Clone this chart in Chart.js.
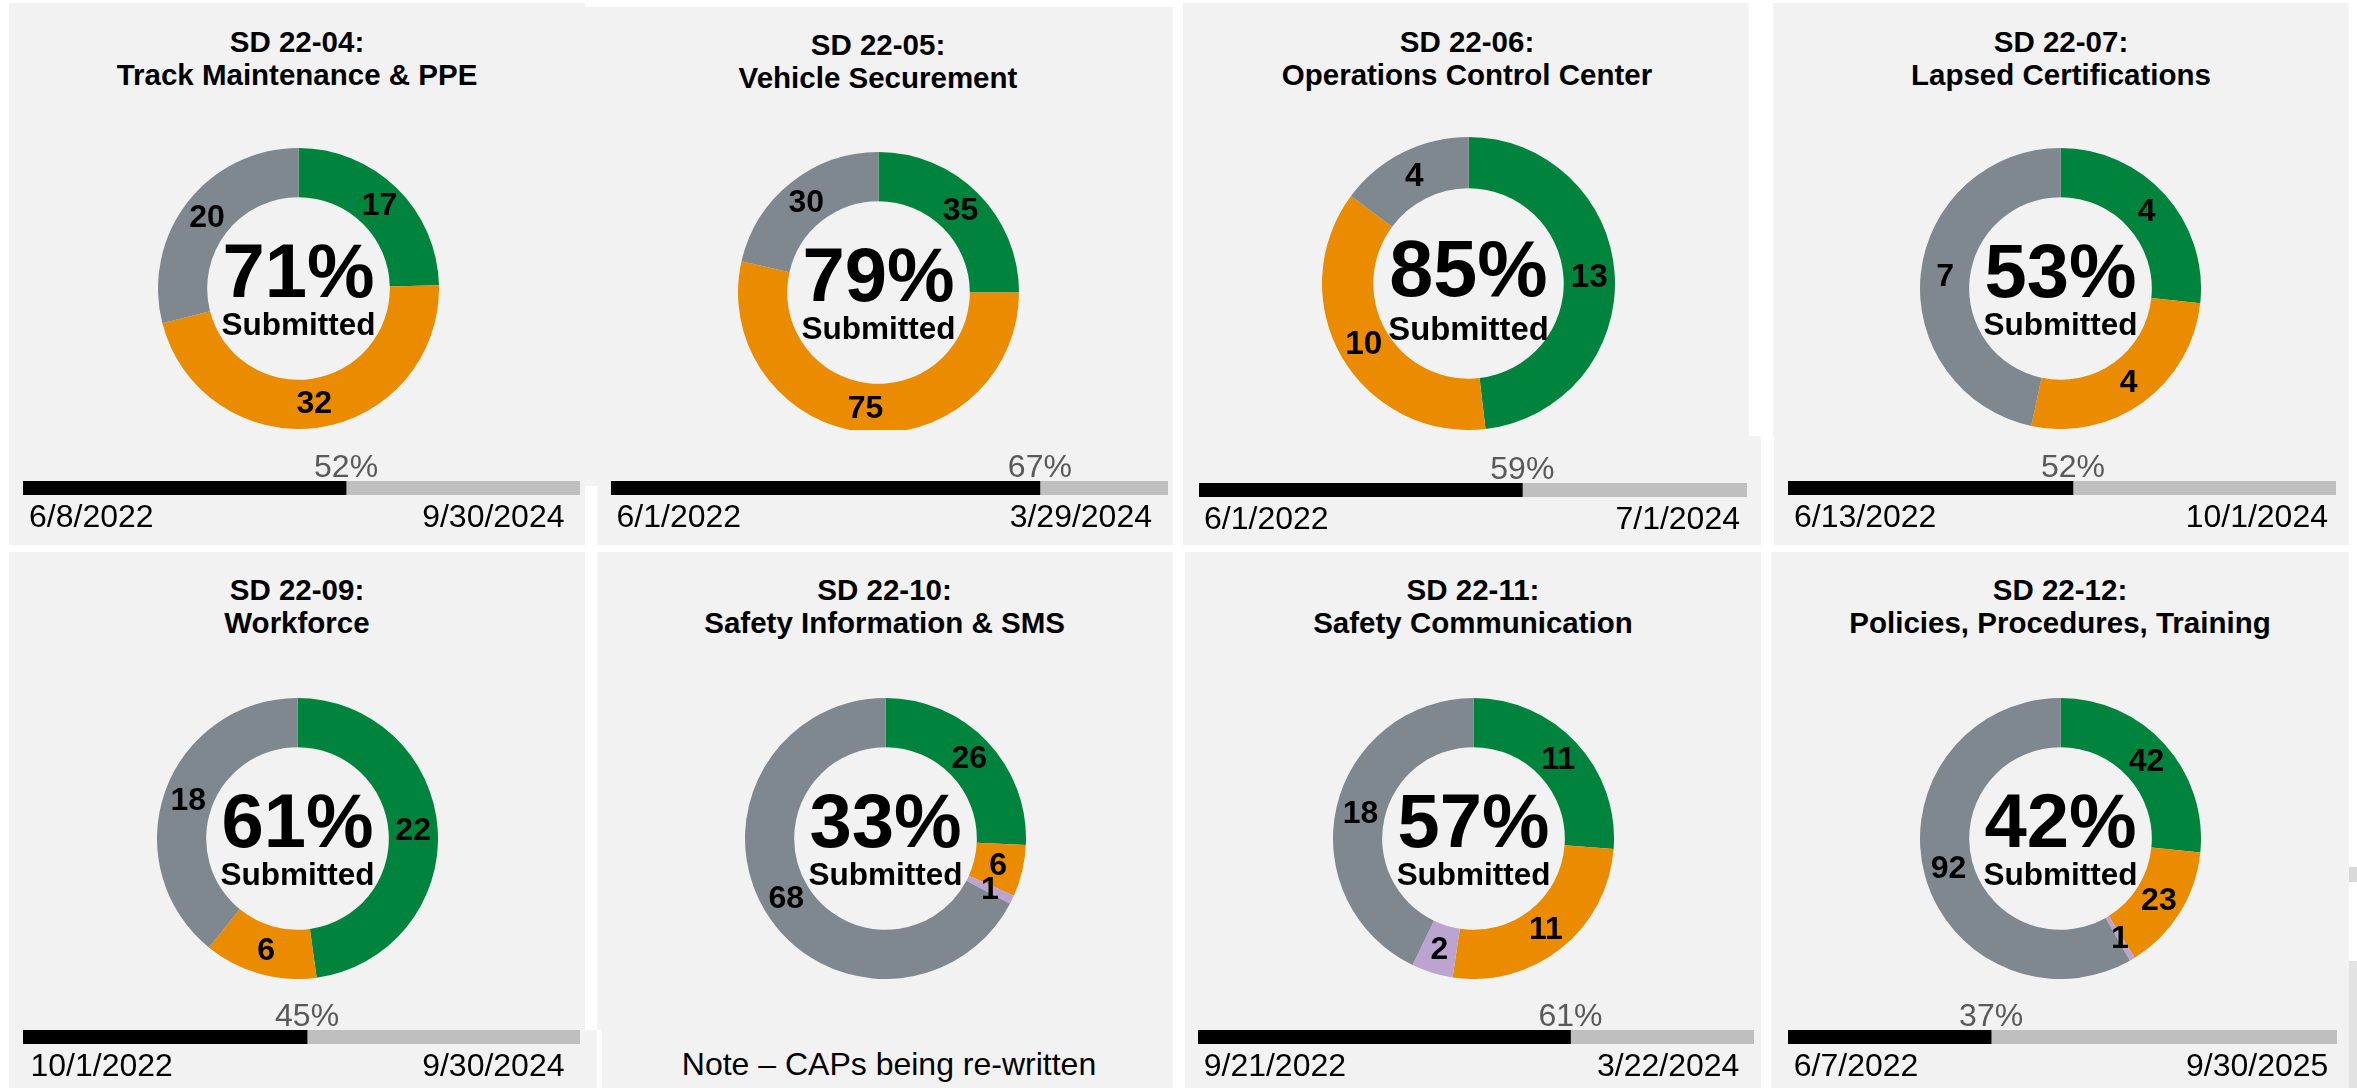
<!DOCTYPE html>
<html>
<head>
<meta charset="utf-8">
<script src="https://cdn.jsdelivr.net/npm/chart.js@4.4.1/dist/chart.umd.min.js"></script>
<style>
  html, body { margin:0; padding:0; }
  body { width:2357px; height:1088px; position:relative; overflow:hidden; background:#f2f2f2;
         font-family:"Liberation Sans", Arial, sans-serif; }
  .w { position:absolute; background:#ffffff; }
  .title { position:absolute; width:600px; text-align:center; font-weight:bold; font-size:29.5px;
           line-height:33px; color:#000; white-space:nowrap; }
  .note { position:absolute; width:600px; text-align:center; font-size:32px; line-height:32px; color:#000; white-space:nowrap; }
  canvas { position:absolute; }
  .clip { position:absolute; overflow:hidden; }
  .clip canvas { left:0; top:0; }
</style>
</head>
<body>
<script>
// ---------------- DATA ----------------
const directiveIds   = ['SD 22-04:', 'SD 22-05:', 'SD 22-06:', 'SD 22-07:', 'SD 22-09:', 'SD 22-10:', 'SD 22-11:', 'SD 22-12:'];
const directiveNames = ['Track Maintenance & PPE', 'Vehicle Securement', 'Operations Control Center', 'Lapsed Certifications',
                        'Workforce', 'Safety Information & SMS', 'Safety Communication', 'Policies, Procedures, Training'];
const greenCounts    = [17, 35, 13, 4, 22, 26, 11, 42];
const orangeCounts   = [32, 75, 10, 4, 6, 6, 11, 23];
const purpleCounts   = [0, 0, 0, 0, 0, 1, 2, 1];
const grayCounts     = [20, 30, 4, 7, 18, 68, 18, 92];
const submittedPct   = ['71%', '79%', '85%', '53%', '61%', '33%', '57%', '42%'];
const timeElapsed    = [0.58, 0.77, 0.59, 0.52, 0.51, null, 0.67, 0.37];
const timeLabels     = ['52%', '67%', '59%', '52%', '45%', null, '61%', '37%'];
const startDates     = ['6/8/2022', '6/1/2022', '6/1/2022', '6/13/2022', '10/1/2022', null, '9/21/2022', '6/7/2022'];
const endDates       = ['9/30/2024', '3/29/2024', '7/1/2024', '10/1/2024', '9/30/2024', null, '3/22/2024', '9/30/2025'];
const noteText       = 'Note \u2013 CAPs being re-written';

// ---------------- LAYOUT (positions only) ----------------
const donutLayout = [
  {cx:298,    cy:288,   R:140.5, tx:297,  ty:24.7, dy1:8.5,  dy2:46},
  {cx:878.5,  cy:292.5, R:140.5, tx:878,  ty:28.3, dy1:8.5,  dy2:46, clipBottom:430},
  {cx:1468.5, cy:283,   R:146.3, tx:1467, ty:24.7, dy1:12.4, dy2:56},
  {cx:2060.5, cy:288.7, R:140.4, tx:2061, ty:24.7, dy1:8.5,  dy2:46},
  {cx:297.7,  cy:838,   R:140.5, tx:297,  ty:573.3, dy1:8.5, dy2:46},
  {cx:885,    cy:838,   R:140.6, tx:884.6,ty:573.3, dy1:8,   dy2:46},
  {cx:1473,   cy:838,   R:140.3, tx:1473, ty:573.3, dy1:8.5, dy2:46},
  {cx:2060.5, cy:838,   R:140.6, tx:2060, ty:573.3, dy1:8.5, dy2:46}
];
const barLayout = [
  {l:23,     r:580,    t:481,   li:6,   ri:15.5},
  {l:610.6,  r:1168,   t:481,   li:5.5, ri:16},
  {l:1198.7, r:1747,   t:483,   li:5,   ri:7},
  {l:1787.6, r:2336,   t:481,   li:6,   ri:8},
  {l:23,     r:580,    t:1030,  li:7.5, ri:15.5},
  null,
  {l:1198,   r:1753.6, t:1030,  li:5.7, ri:14.6},
  {l:1787.6, r:2337,   t:1030,  li:5.8, ri:8.6}
];
const whiteRects = [
  [0,0,2357,3],[585,0,588,7],[0,0,9,1088],[2349,0,8,1088],[0,545,2357,7],
  [585,486,12,59],[585,552,12,478],[597,1030,5,58],
  [1173,0,10,545],[1173,552,12,536],
  [1749,0,24,436],[1761,436,13,109],[1761,552,10,536]
];

const COLORS = { green:'#00843d', orange:'#ea8b00', purple:'#bba5d0', gray:'#7f888e', bar:'#000000', barRest:'#bfbfbf' };
const FONT = '"Liberation Sans", Arial, sans-serif';

// ---------------- BACKGROUND ----------------
whiteRects.forEach(([x,y,w,h]) => {
  const d = document.createElement('div'); d.className = 'w';
  Object.assign(d.style, {left:x+'px', top:y+'px', width:w+'px', height:h+'px'});
  document.body.appendChild(d);
});
[[2349,867,8,15,'#d9d9d9'],[2349,961,8,127,'#e2e2e2']].forEach(([x,y,w,h,c]) => {
  const d = document.createElement('div'); d.className = 'w';
  Object.assign(d.style, {left:x+'px', top:y+'px', width:w+'px', height:h+'px', background:c});
  document.body.appendChild(d);
});

// ---------------- PLUGINS ----------------
const segmentLabels = {
  id:'segmentLabels',
  afterDatasetsDraw(chart) {
    const ctx = chart.ctx, k = chart.options.plugins.segmentLabels.k;
    const meta = chart.getDatasetMeta(0);
    const vals = chart.data.datasets[0].data;
    ctx.save();
    ctx.fillStyle = '#000';
    ctx.font = `bold ${32*k}px ${FONT}`;
    ctx.textAlign = 'center'; ctx.textBaseline = 'middle';
    meta.data.forEach((arc, i) => {
      if (!vals[i]) return;
      const p = arc.tooltipPosition();
      ctx.fillText(String(vals[i]), p.x, p.y + 1);
    });
    ctx.restore();
  }
};
const centerText = {
  id:'centerText',
  afterDraw(chart) {
    const o = chart.options.plugins.centerText;
    const arc = chart.getDatasetMeta(0).data[0];
    const ctx = chart.ctx;
    ctx.save();
    ctx.fillStyle = '#000'; ctx.textAlign = 'center'; ctx.textBaseline = 'alphabetic';
    ctx.font = `bold ${76*o.k}px ${FONT}`;
    ctx.fillText(o.pct, arc.x, arc.y + o.dy1);
    ctx.font = `bold ${31.5*o.k}px ${FONT}`;
    ctx.fillText('Submitted', arc.x, arc.y + o.dy2);
    ctx.restore();
  }
};
const barText = {
  id:'barText',
  afterDraw(chart) {
    const o = chart.options.plugins.barText;
    const ctx = chart.ctx, a = chart.chartArea;
    const xe = chart.scales.x.getPixelForValue(o.elapsed);
    ctx.save();
    ctx.textBaseline = 'alphabetic';
    ctx.font = `32px ${FONT}`;
    ctx.fillStyle = '#595959'; ctx.textAlign = 'center';
    ctx.fillText(o.label, xe, a.top - 4.5);
    ctx.fillStyle = '#000';
    ctx.textAlign = 'left';  ctx.fillText(o.start, a.left + o.li, a.bottom + 32);
    ctx.textAlign = 'right'; ctx.fillText(o.end, a.right - o.ri, a.bottom + 32);
    ctx.restore();
  }
};

// ---------------- BUILD PANELS ----------------
const PT = 45, PB = 45, BH = 14;
directiveIds.forEach((id, i) => {
  const L = donutLayout[i];
  // title
  const t = document.createElement('div'); t.className = 'title';
  t.style.left = (L.tx - 300) + 'px'; t.style.top = L.ty + 'px';
  t.textContent = id; t.appendChild(document.createElement('br'));
  t.appendChild(document.createTextNode(directiveNames[i]));
  document.body.appendChild(t);

  // donut
  const size = Math.round(2 * L.R);
  const cv = document.createElement('canvas');
  cv.width = size; cv.height = size;
  const left = L.cx - size/2, top = L.cy - size/2;
  if (L.clipBottom) {
    const wrap = document.createElement('div'); wrap.className = 'clip';
    Object.assign(wrap.style, {left:left+'px', top:top+'px', width:size+'px', height:(L.clipBottom - top)+'px'});
    wrap.appendChild(cv); document.body.appendChild(wrap);
  } else {
    cv.style.left = left + 'px'; cv.style.top = top + 'px';
    document.body.appendChild(cv);
  }
  const k = L.R / 140.5;
  new Chart(cv, {
    type:'doughnut',
    data:{ labels:['Approved','In review','Other','Not submitted'],
      datasets:[{ data:[greenCounts[i], orangeCounts[i], purpleCounts[i], grayCounts[i]],
        backgroundColor:[COLORS.green, COLORS.orange, COLORS.purple, COLORS.gray],
        borderWidth:0, hoverOffset:0 }] },
    options:{ responsive:false, animation:false, cutout:'65%', rotation:0,
      layout:{padding:0},
      plugins:{ legend:{display:false}, tooltip:{enabled:false},
        segmentLabels:{k}, centerText:{k, pct:submittedPct[i], dy1:L.dy1, dy2:L.dy2} } },
    plugins:[segmentLabels, centerText]
  });

  // progress bar
  const B = barLayout[i];
  if (B && timeElapsed[i] !== null) {
    const bc = document.createElement('canvas');
    const w = Math.round(B.r - B.l);
    bc.width = w; bc.height = PT + BH + PB;
    bc.style.left = B.l + 'px'; bc.style.top = (B.t - PT) + 'px';
    document.body.appendChild(bc);
    new Chart(bc, {
      type:'bar',
      data:{ labels:['time'], datasets:[
        { data:[timeElapsed[i]], backgroundColor:COLORS.bar, borderWidth:0, barPercentage:1, categoryPercentage:1 },
        { data:[1 - timeElapsed[i]], backgroundColor:COLORS.barRest, borderWidth:0, barPercentage:1, categoryPercentage:1 } ] },
      options:{ indexAxis:'y', responsive:false, animation:false,
        layout:{padding:{top:PT, bottom:PB, left:0, right:0}},
        scales:{ x:{stacked:true, min:0, max:1, display:false}, y:{stacked:true, display:false} },
        plugins:{ legend:{display:false}, tooltip:{enabled:false},
          barText:{elapsed:timeElapsed[i], label:timeLabels[i], start:startDates[i], end:endDates[i], li:B.li, ri:B.ri} } },
      plugins:[barText]
    });
  }
});

// note for SD 22-10
const n = document.createElement('div'); n.className = 'note';
n.style.left = (889 - 300) + 'px'; n.style.top = '1048px';
n.textContent = noteText;
document.body.appendChild(n);
</script>
</body>
</html>
